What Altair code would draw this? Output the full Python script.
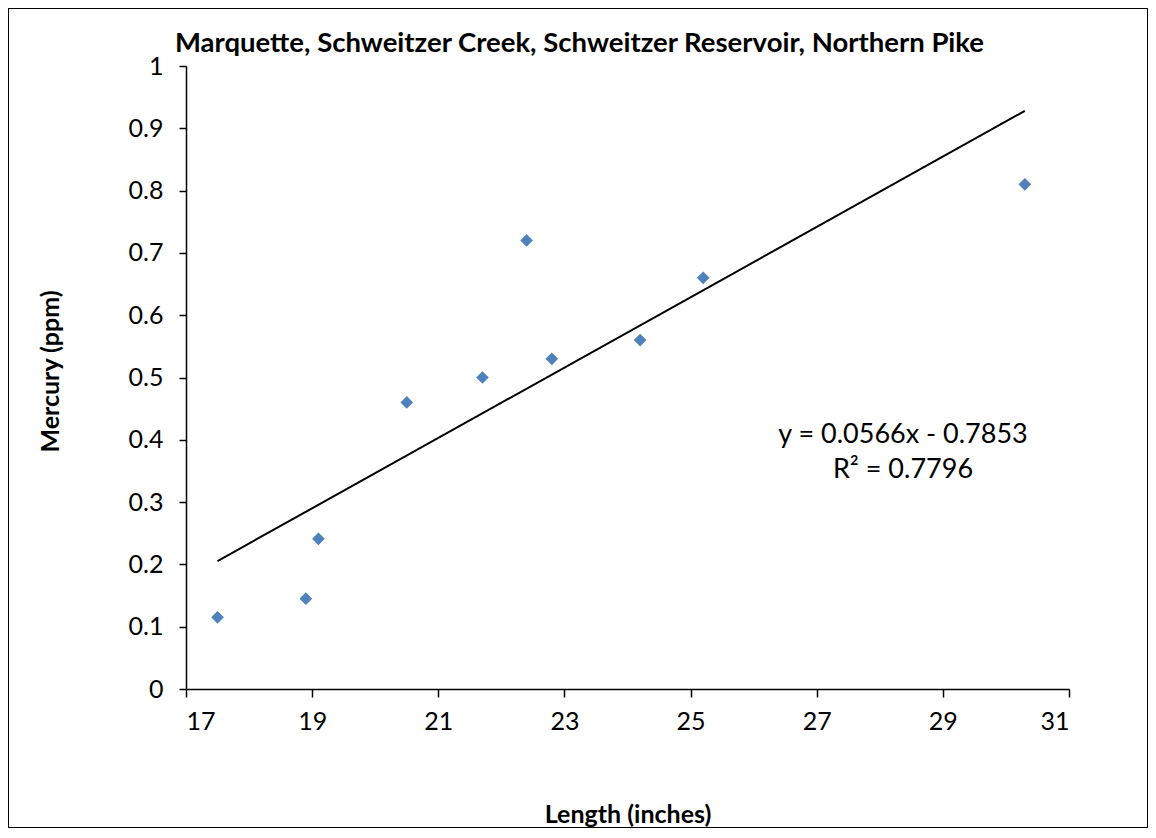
import altair as alt
import pandas as pd

# Data
length_in = [17.5, 18.9, 19.1, 20.5, 21.7, 22.4, 22.8, 24.2, 25.2, 30.3]
mercury_ppm = [0.115, 0.145, 0.241, 0.46, 0.50, 0.72, 0.53, 0.56, 0.66, 0.81]

x_ticks = [17, 19, 21, 23, 25, 27, 29, 31]
y_ticks = [0, 0.1, 0.2, 0.3, 0.4, 0.5, 0.6, 0.7, 0.8, 0.9, 1]

title_text = "Marquette, Schweitzer Creek, Schweitzer Reservoir, Northern Pike"
x_title = "Length (inches)"
y_title = "Mercury (ppm)"
eq_line1 = "y = 0.0566x - 0.7853"
eq_line2 = "R\u00b2 = 0.7796"

df = pd.DataFrame({"length": length_in, "mercury": mercury_ppm})

W, H = 883, 623
FONT = "Lato"

xscale = alt.Scale(domain=[17, 31], nice=False, zero=False)
yscale = alt.Scale(domain=[0, 1], nice=False)

xenc = alt.X(
    "length:Q",
    scale=xscale,
    axis=alt.Axis(
        values=x_ticks, title=x_title, grid=False, domainColor="black",
        domainWidth=1.5, tickColor="black", tickWidth=1.5, tickSize=8,
        labelFont=FONT, labelFontSize=25, labelColor="black", labelPadding=12,
        titleFont=FONT, titleFontSize=25, titleFontWeight="bold", titleColor="black",
        titleY=133, titleBaseline="alphabetic",
    ),
)
yenc = alt.Y(
    "mercury:Q",
    scale=yscale,
    axis=alt.Axis(
        values=y_ticks, format="~g", title=y_title, grid=False, domainColor="black",
        domainWidth=1.5, tickColor="black", tickWidth=1.5, tickSize=7,
        labelFont=FONT, labelFontSize=25, labelColor="black", labelPadding=16,
        titleFont=FONT, titleFontSize=25, titleFontWeight="bold", titleColor="black",
        titleX=-136, titleY=305, titleBaseline="middle",
    ),
)

frame = alt.Chart(df).mark_rect(
    fillOpacity=0, stroke="black", strokeWidth=1
).encode(
    x=alt.value(-177.5), x2=alt.value(W + 78.5),
    y=alt.value(-57.5), y2=alt.value(H + 138.5),
)

trend = alt.Chart(df).transform_regression(
    "length", "mercury"
).mark_line(color="black", strokeWidth=2).encode(x=xenc, y=yenc)

points = alt.Chart(df).mark_point(
    shape="diamond", filled=True, size=160, color="#4F81BD", opacity=1
).encode(x=xenc, y=yenc)

eq1 = alt.Chart(pd.DataFrame({"label": [eq_line1]})).mark_text(
    font=FONT, fontSize=27, color="black", align="center", baseline="alphabetic"
).encode(text="label:N", x=alt.value(717), y=alt.value(377))

eq2 = alt.Chart(pd.DataFrame({"label": [eq_line2]})).mark_text(
    font=FONT, fontSize=27, color="black", align="center", baseline="alphabetic"
).encode(text="label:N", x=alt.value(717), y=alt.value(412))

chart = alt.layer(frame, trend, points, eq1, eq2).properties(
    width=W, height=H,
    title=alt.TitleParams(
        title_text, font=FONT, fontSize=27.5, fontWeight="bold", color="black",
        anchor="middle", dx=-48, offset=-49,
    ),
    autosize=alt.AutoSizeParams(type="none"),
    padding={"left": 178, "top": 58, "right": 79, "bottom": 139},
).configure_view(stroke=None)

chart.save("out.html", embed_options={"renderer": "svg", "actions": False})
